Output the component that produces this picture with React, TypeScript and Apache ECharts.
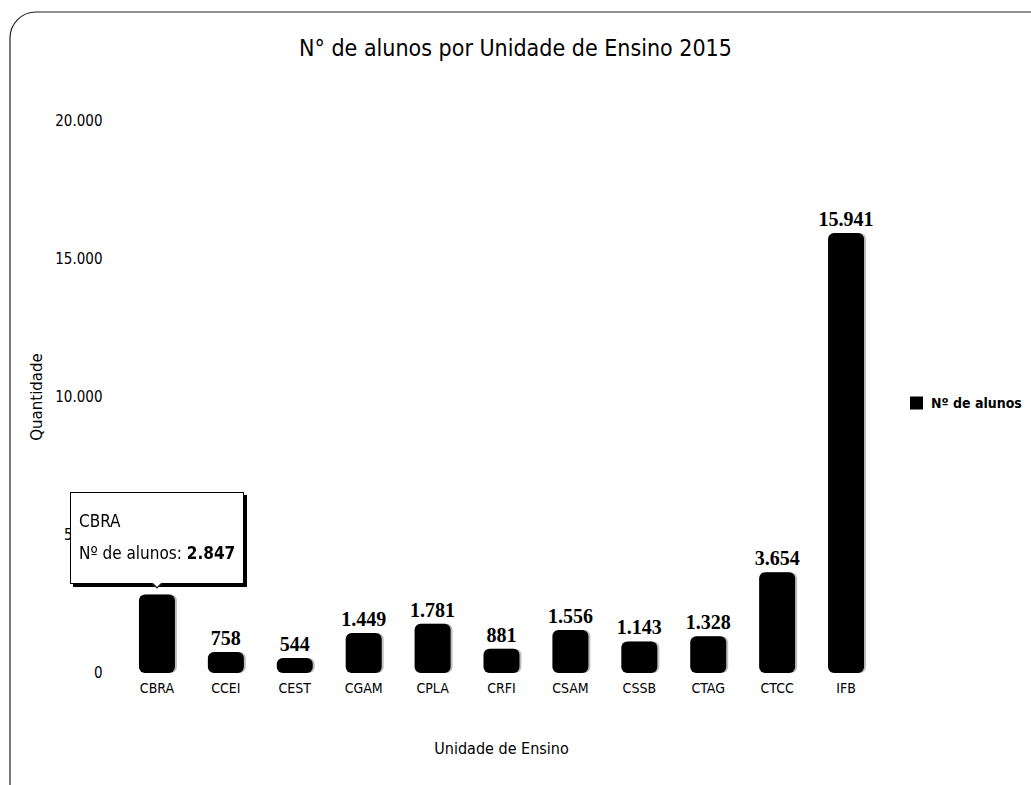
import React, { useEffect, useRef } from "react";
import * as echarts from "echarts";

const categories = ["CBRA", "CCEI", "CEST", "CGAM", "CPLA", "CRFI", "CSAM", "CSSB", "CTAG", "CTCC", "IFB"];
const alunos = [2847, 758, 544, 1449, 1781, 881, 1556, 1143, 1328, 3654, 15941];
const yTicks = [0, 5000, 10000, 15000, 20000];

const fmt = (v: number) => String(Math.round(v)).replace(/\B(?=(\d{3})+(?!\d))/g, ".");
const NARROW = '"Liberation Sans Narrow", "DejaVu Sans Condensed", sans-serif';

export default function App() {
  const ref = useRef<HTMLDivElement>(null);
  useEffect(() => {
    document.body.style.margin = "0";
    const chart = echarts.init(ref.current!, null, { renderer: "svg" });
    chart.setOption({
      animation: false,
      backgroundColor: "#fff",
      title: {
        text: "N° de alunos por Unidade de Ensino 2015",
        left: "center",
        top: 31,
        textStyle: { fontFamily: NARROW, fontSize: 23, fontWeight: "normal", color: "#000" },
      },
      graphic: [
        {
          type: "rect",
          shape: { x: 10, y: 12, width: 1080, height: 800, r: 26 },
          style: { fill: "none", stroke: "#222", lineWidth: 1.2 },
          silent: true,
          z: -1,
        },
      ],
      legend: {
        left: 905,
        top: 391,
        orient: "vertical",
        itemWidth: 13,
        itemHeight: 13,
        icon: "rect",
        textStyle: { fontFamily: NARROW, fontSize: 14, fontWeight: "bold", color: "#000", padding: [0, 0, 0, 3] },
        data: ["Nº de alunos"],
      },
      tooltip: {
        trigger: "item",
        position: "top",
        alwaysShowContent: true,
        transitionDuration: 0,
        backgroundColor: "#fff",
        borderColor: "#000",
        borderWidth: 1,
        borderRadius: 0,
        padding: [12, 8, 14, 8],
        extraCssText:
          "box-shadow: 3px 3px 0 #000; line-height: 32px; font-family: 'Liberation Sans Narrow', 'DejaVu Sans Condensed', sans-serif;",
        textStyle: { fontFamily: NARROW, fontSize: 17, color: "#000" },
        formatter: (p: any) => `${p.name}<br/>Nº de alunos: <b>${fmt(p.value)}</b>`,
      },
      grid: { left: 122.5, right: 150.5, top: 121, bottom: 112, containLabel: false },
      xAxis: {
        type: "category",
        data: categories,
        name: "Unidade de Ensino",
        nameLocation: "middle",
        nameGap: 67,
        nameTextStyle: { fontFamily: NARROW, fontSize: 16, color: "#000" },
        axisLine: { show: false },
        axisTick: { show: false },
        axisLabel: { fontFamily: NARROW, fontSize: 14, color: "#000", margin: 8 },
      },
      yAxis: {
        type: "value",
        min: yTicks[0],
        max: yTicks[yTicks.length - 1],
        interval: 5000,
        name: "Quantidade",
        nameLocation: "middle",
        nameGap: 78,
        nameTextStyle: { fontFamily: '"DejaVu Sans", sans-serif', fontSize: 15, color: "#000" },
        axisLine: { show: false },
        axisTick: { show: false },
        splitLine: { show: false },
        axisLabel: { fontFamily: NARROW, fontSize: 15, color: "#000", margin: 20, formatter: (v: number) => fmt(v) },
      },
      series: [
        {
          name: "Nº de alunos",
          type: "bar",
          data: alunos,
          barWidth: 36,
          itemStyle: {
            color: "#000",
            borderRadius: 6,
            shadowColor: "rgba(0,0,0,0.25)",
            shadowOffsetX: 2,
            shadowBlur: 0,
          },
          label: {
            show: true,
            position: "top",
            distance: 4,
            fontFamily: '"Liberation Serif", serif',
            fontWeight: "bold",
            fontSize: 20,
            color: "#000",
            formatter: (p: any) => fmt(p.value),
          },
        },
      ],
    });
    chart.dispatchAction({ type: "showTip", seriesIndex: 0, dataIndex: 0 });
    return () => chart.dispose();
  }, []);
  return <div ref={ref} style={{ width: 1031, height: 785 }} />;
}
